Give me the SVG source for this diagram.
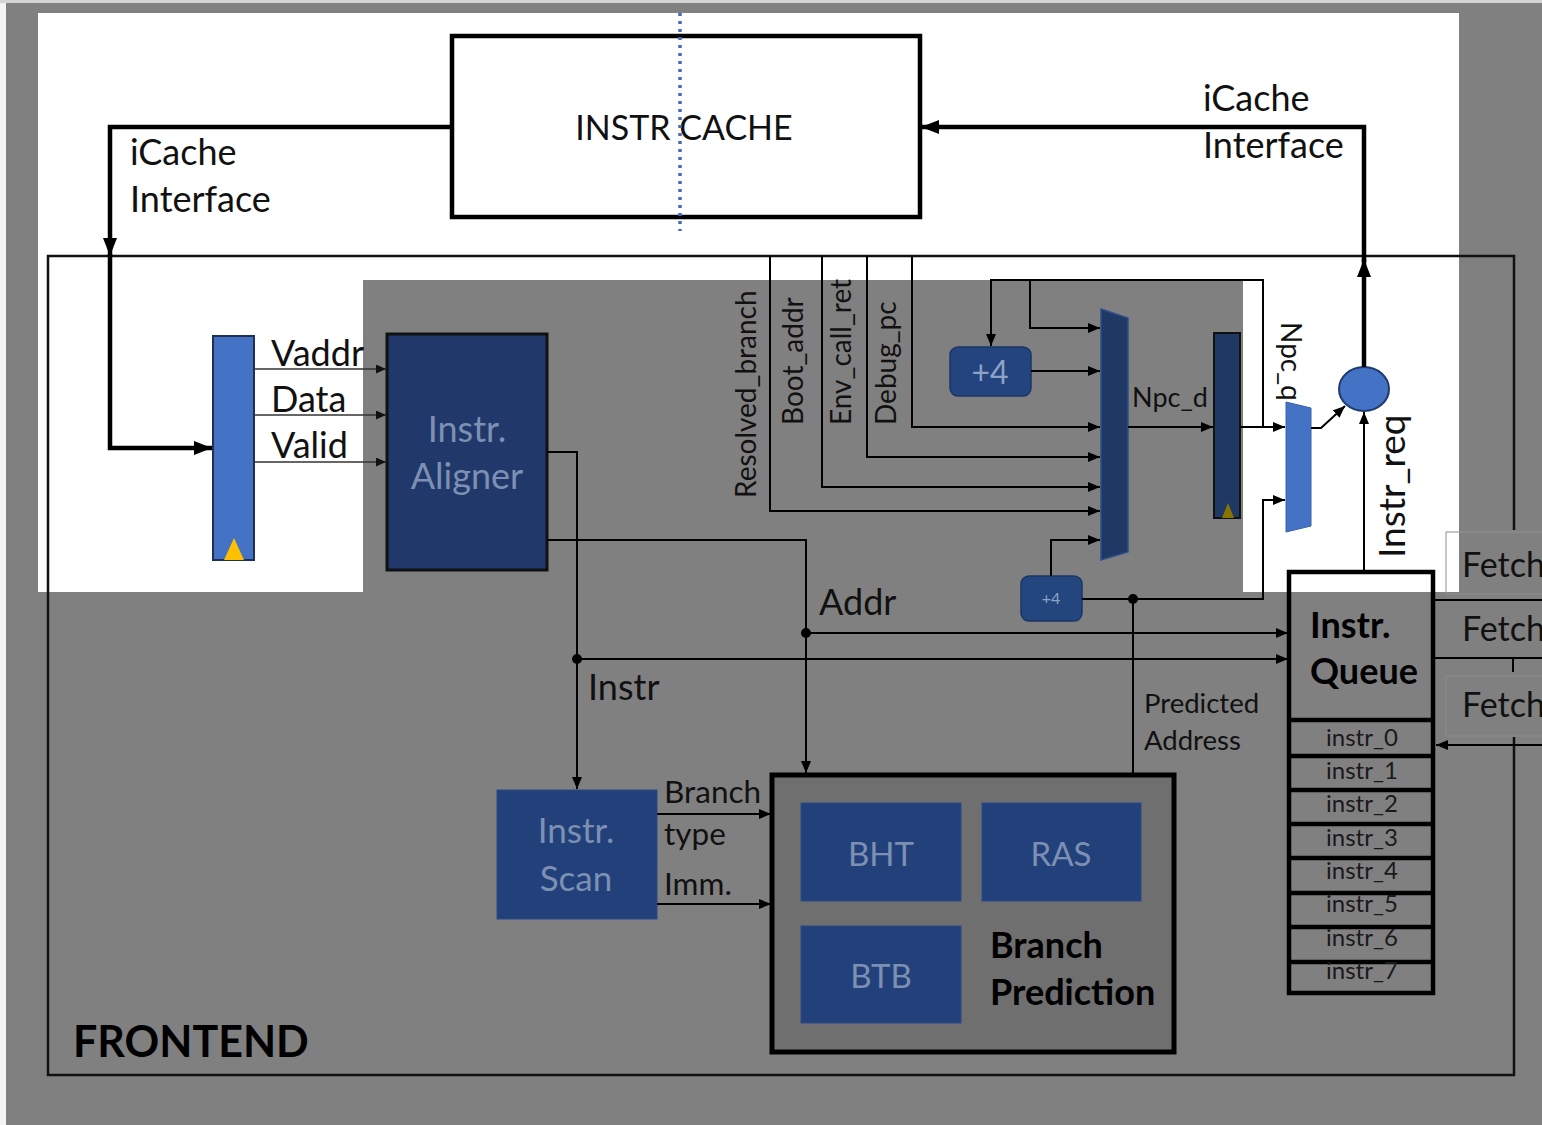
<svg xmlns="http://www.w3.org/2000/svg" width="1542" height="1125" viewBox="0 0 1542 1125">
<style>
text{font-family:Lato,"Open Sans","Liberation Sans",sans-serif;}
.w{fill:none;stroke:#000;stroke-width:2;}
.wt{fill:none;stroke:#000;stroke-width:4.5;}
.ws{fill:none;stroke:#333;stroke-width:1.5;}
.lbl{fill:#111;}
.bx{fill:#22417a;stroke:#2a4a85;stroke-width:1;}
.in{fill:#7d90b3;}
.bold{font-weight:bold;fill:#000;}
.dot{fill:#000;}
</style>
<defs>
<marker id="ah" viewBox="0 0 12 10" refX="12" refY="5" markerWidth="12" markerHeight="10" markerUnits="userSpaceOnUse" orient="auto"><path d="M0,0 L12,5 L0,10 Z" fill="#000"/></marker>
<marker id="ahs" viewBox="0 0 10 9" refX="10" refY="4.5" markerWidth="10" markerHeight="9" markerUnits="userSpaceOnUse" orient="auto"><path d="M0,0 L10,4.5 L0,9 Z" fill="#111"/></marker>
<marker id="ahb" viewBox="0 0 18 14" refX="18" refY="7" markerWidth="18" markerHeight="14" markerUnits="userSpaceOnUse" orient="auto"><path d="M0,0 L18,7 L0,14 Z" fill="#000"/></marker>
</defs>

<!-- background -->
<rect x="0" y="0" width="1542" height="1125" fill="#808080"/>
<rect x="0" y="0" width="6" height="1125" fill="#f4f4f4"/>
<rect x="0" y="0" width="1542" height="3" fill="#d4d4d4"/>
<path d="M38,13 H1459 V592 H1243 V280 H363 V592 H38 Z" fill="#ffffff"/>

<!-- frontend frame -->
<g id="frontend">
<path d="M1514,530 V256 H48 V1075 H1514 V737" fill="none" stroke="#111" stroke-width="2.5"/>
<text x="73" y="1057" font-size="43" class="bold">FRONTEND</text>
</g>

<!-- instruction cache -->
<g id="instr-cache">
<rect x="452" y="36" width="468" height="181" fill="#fff" stroke="#000" stroke-width="4.5"/>
<text x="684" y="140" font-size="34" text-anchor="middle" class="lbl">INSTR CACHE</text>
<line x1="680" y1="13" x2="680" y2="231" stroke="#4a6bb5" stroke-width="3.5" stroke-dasharray="3 5"/>
</g>

<!-- fetch boxes at right -->
<g id="fetch-1">
<rect x="1446" y="532" width="110" height="62" fill="#808080" stroke="#929292" stroke-width="1"/>
<rect x="1446.5" y="532.5" width="12.5" height="59.5" fill="#fff"/>
<text x="1462" y="577" font-size="34" class="lbl">Fetch</text>
</g>
<g id="fetch-2">
<text x="1462" y="641" font-size="34" class="lbl">Fetch</text>
</g>
<g id="fetch-3">
<rect x="1446" y="676" width="110" height="60" fill="#808080" stroke="#8c8c8c" stroke-width="1"/>
<text x="1462" y="717" font-size="34" class="lbl">Fetch</text>
</g>

<!-- left fetch register -->
<g id="fetch-reg">
<rect x="213" y="336" width="41" height="224" fill="#4472c4" stroke="#1f2f55" stroke-width="2"/>
<path d="M224,560 L234,538 L244,560 Z" fill="#ffc000"/>
</g>

<!-- instr aligner -->
<g id="instr-aligner">
<rect x="387" y="334" width="160" height="236" fill="#20396a" stroke="#111" stroke-width="3"/>
<text x="467" y="442" font-size="36" text-anchor="middle" class="in">Instr.</text>
<text x="467" y="489" font-size="36" text-anchor="middle" class="in">Aligner</text>
</g>

<!-- +4 upper -->
<g id="plus4-a">
<rect x="950" y="347" width="81" height="49" rx="8" fill="#23447f" stroke="#1c3564" stroke-width="1.5"/>
<text x="990" y="384" font-size="32" text-anchor="middle" fill="#8ea2c6">+4</text>
</g>

<!-- +4 lower -->
<g id="plus4-b">
<rect x="1021" y="576" width="61" height="45" rx="8" fill="#23467f" stroke="#1c3564" stroke-width="1.5"/>
<text x="1051" y="604" font-size="16" text-anchor="middle" fill="#8ea2c6">+4</text>
</g>

<!-- npc mux -->
<g id="mux-npc">
<path d="M1101,309 L1128,318 L1128,552 L1101,560 Z" fill="#203864" stroke="#2d4f8c" stroke-width="1.5"/>
</g>

<!-- npc register -->
<g id="npc-reg">
<rect x="1214" y="333" width="26" height="185" fill="#1f3864" stroke="#111" stroke-width="2"/>
<path d="M1222,518 L1228,503 L1234,518 Z" fill="#8a7400"/>
</g>

<!-- fetch mux -->
<g id="mux-fetch">
<path d="M1286,402 L1311,408 L1311,526 L1286,532 Z" fill="#4472c4" stroke="#3a62aa" stroke-width="1"/>
</g>

<!-- instr req node -->
<g id="instr-req">
<ellipse cx="1364" cy="389" rx="25" ry="22" fill="#4472c4" stroke="#1f3a6e" stroke-width="2"/>
</g>

<!-- instr queue -->
<g id="instr-queue">
<rect x="1289" y="572" width="144" height="421" fill="none" stroke="#000" stroke-width="4.5"/>
<line x1="1289" y1="720" x2="1433" y2="720" stroke="#000" stroke-width="4.5"/>
<line x1="1289" y1="756" x2="1433" y2="756" stroke="#000" stroke-width="4.5"/>
<line x1="1289" y1="790" x2="1433" y2="790" stroke="#000" stroke-width="4.5"/>
<line x1="1289" y1="824" x2="1433" y2="824" stroke="#000" stroke-width="4.5"/>
<line x1="1289" y1="858" x2="1433" y2="858" stroke="#000" stroke-width="4.5"/>
<line x1="1289" y1="893" x2="1433" y2="893" stroke="#000" stroke-width="4.5"/>
<line x1="1289" y1="927" x2="1433" y2="927" stroke="#000" stroke-width="4.5"/>
<line x1="1289" y1="962" x2="1433" y2="962" stroke="#000" stroke-width="4.5"/>
<text x="1310" y="638" font-size="36" class="bold">Instr.</text>
<text x="1310" y="684" font-size="36" class="bold">Queue</text>
<g font-size="24" text-anchor="middle" fill="#1a1a1a">
<text x="1362" y="746">instr_0</text>
<text x="1362" y="779">instr_1</text>
<text x="1362" y="812">instr_2</text>
<text x="1362" y="846">instr_3</text>
<text x="1362" y="879">instr_4</text>
<text x="1362" y="912">instr_5</text>
<text x="1362" y="946">instr_6</text>
<text x="1362" y="979">instr_7</text>
</g>
</g>

<!-- instr scan -->
<g id="instr-scan">
<rect x="497" y="790" width="160" height="129" class="bx"/>
<text x="576" y="843" font-size="35" text-anchor="middle" class="in">Instr.</text>
<text x="576" y="891" font-size="35" text-anchor="middle" class="in">Scan</text>
</g>

<!-- branch prediction -->
<g id="branch-prediction">
<rect x="772" y="775" width="402" height="277" fill="#6f6f6f" stroke="#000" stroke-width="5"/>
<g id="bht">
<rect x="801" y="803" width="160" height="98" class="bx"/>
<text x="881" y="866" font-size="33" text-anchor="middle" class="in">BHT</text>
</g>
<g id="ras">
<rect x="982" y="803" width="159" height="98" class="bx"/>
<text x="1061" y="866" font-size="33" text-anchor="middle" class="in">RAS</text>
</g>
<g id="btb">
<rect x="801" y="926" width="160" height="97" class="bx"/>
<text x="881" y="988" font-size="33" text-anchor="middle" class="in">BTB</text>
</g>
<text x="990" y="958" font-size="36" class="bold">Branch</text>
<text x="990" y="1005" font-size="36" class="bold">Prediction</text>
</g>

<!-- connectors -->
<g id="connectors">
<path class="wt" d="M452,127 H110 V256" marker-end="url(#ahb)"/>
<path class="wt" d="M110,254 V448 H212" marker-end="url(#ahb)"/>
<path class="wt" d="M1364,367 V259" marker-end="url(#ahb)"/>
<path class="wt" d="M1364,262 V127 H921" marker-end="url(#ahb)"/>

<path class="ws" d="M255,369 H386" marker-end="url(#ahs)"/>
<path class="ws" d="M255,415 H386" marker-end="url(#ahs)"/>
<path class="ws" d="M255,462 H386" marker-end="url(#ahs)"/>

<path class="w" d="M547,452 H577 V789" marker-end="url(#ah)"/>
<path class="w" d="M577,659 H1288" marker-end="url(#ah)"/>
<circle class="dot" cx="577" cy="659" r="5"/>
<path class="w" d="M547,540 H806 V773" marker-end="url(#ah)"/>
<path class="w" d="M806,633 H1288" marker-end="url(#ah)"/>
<circle class="dot" cx="806" cy="633" r="5"/>

<path class="w" d="M657,814 H771" marker-end="url(#ah)"/>
<path class="w" d="M657,904 H771" marker-end="url(#ah)"/>

<path class="w" d="M1082,599 H1263 V500 H1285" marker-end="url(#ah)"/>
<circle class="dot" cx="1133" cy="599" r="5"/>
<path class="w" d="M1133,599 V775"/>
<path class="w" d="M1051,576 V540 H1100" marker-end="url(#ah)"/>

<path class="w" d="M770,256 V511 H1100" marker-end="url(#ah)"/>
<path class="w" d="M822,256 V487 H1100" marker-end="url(#ah)"/>
<path class="w" d="M867,256 V457 H1100" marker-end="url(#ah)"/>
<path class="w" d="M912,256 V427 H1100" marker-end="url(#ah)"/>

<path class="w" d="M1240,427 H1285" marker-end="url(#ah)"/>
<path class="w" d="M1263,427 V280 H991 V346" marker-end="url(#ah)"/>
<path class="w" d="M1030,280 V328 H1100" marker-end="url(#ah)"/>
<path class="w" d="M1031,371 H1100" marker-end="url(#ah)"/>
<path class="w" d="M1128,427 H1213" marker-end="url(#ah)"/>
<path class="w" d="M1311,428 H1321 L1345,406" marker-end="url(#ah)"/>
<path class="w" d="M1364,571 V412" marker-end="url(#ah)"/>

<path class="w" d="M1434,600 H1542"/>
<path class="w" d="M1434,658 H1542"/>
<path class="w" d="M1513,658 V672"/>
<path class="w" d="M1542,745 H1436" marker-end="url(#ah)"/>
</g>

<!-- labels -->
<g id="labels" class="lbl">
<text x="130" y="165" font-size="36">iCache</text>
<text x="130" y="212" font-size="36">Interface</text>
<text x="1203" y="111" font-size="36">iCache</text>
<text x="1203" y="158" font-size="36">Interface</text>
<text x="271" y="366" font-size="36">Vaddr</text>
<text x="271" y="412" font-size="36">Data</text>
<text x="271" y="458" font-size="36">Valid</text>
<text transform="translate(756,498) rotate(-90)" font-size="28">Resolved_branch</text>
<text transform="translate(803,425) rotate(-90)" font-size="28">Boot_addr</text>
<text transform="translate(851,425) rotate(-90)" font-size="28">Env_call_ret</text>
<text transform="translate(896,425) rotate(-90)" font-size="28">Debug_pc</text>
<text x="1132" y="407" font-size="27">Npc_d</text>
<text transform="translate(1281,322) rotate(90)" font-size="28">Npc_q</text>
<text transform="translate(1405,558) rotate(-90)" font-size="37">Instr_req</text>
<text x="819" y="615" font-size="36">Addr</text>
<text x="588" y="700" font-size="36">Instr</text>
<text x="1144" y="713" font-size="27.5">Predicted</text>
<text x="1144" y="750" font-size="27.5">Address</text>
<text x="664" y="803" font-size="31.5">Branch</text>
<text x="664" y="845" font-size="31.5">type</text>
<text x="664" y="895" font-size="31.5">Imm.</text>
</g>
</svg>
